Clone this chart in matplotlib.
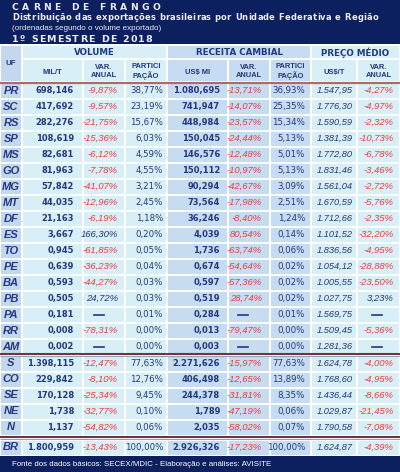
import matplotlib
matplotlib.use("Agg")
import matplotlib.pyplot as plt
from matplotlib.patches import Rectangle

# ---- data -------------------------------------------------------------
ufs = ["PR", "SC", "RS", "SP", "MS", "GO", "MG", "MT", "DF", "ES", "TO",
       "PE", "BA", "PB", "PA", "RR", "AM"]
vol = [698.146, 417.692, 282.276, 108.619, 82.681, 81.963, 57.842, 44.035,
       21.163, 3.667, 0.945, 0.639, 0.593, 0.505, 0.181, 0.008, 0.002]
vol_var = [-9.87, -9.57, -21.75, -15.36, -6.12, -7.78, -41.07, -12.96, -6.19,
           166.30, -61.85, -36.23, -44.27, 24.72, None, -78.31, None]
vol_part = [38.77, 23.19, 15.67, 6.03, 4.59, 4.55, 3.21, 2.45, 1.18, 0.20,
            0.05, 0.04, 0.03, 0.03, 0.01, 0.00, 0.00]
rec = [1080.695, 741.947, 448.984, 150.045, 146.576, 150.112, 90.294, 73.564,
       36.246, 4.039, 1.736, 0.674, 0.597, 0.519, 0.284, 0.013, 0.003]
rec_var = [-13.71, -14.07, -23.57, -24.44, -12.48, -10.97, -42.67, -17.98,
           -8.40, 80.54, -63.74, -54.64, -57.36, 28.74, None, -79.47, None]
rec_part = [36.93, 25.35, 15.34, 5.13, 5.01, 5.13, 3.09, 2.51, 1.24, 0.14,
            0.06, 0.02, 0.02, 0.02, 0.01, 0.00, 0.00]
preco = [1547.95, 1776.30, 1590.59, 1381.39, 1772.80, 1831.46, 1561.04,
         1670.59, 1712.66, 1101.52, 1836.56, 1054.12, 1005.55, 1027.75,
         1569.75, 1509.45, 1281.36]
preco_var = [-4.27, -4.97, -2.32, -10.73, -6.78, -3.46, -2.72, -5.76, -2.35,
             -32.20, -4.95, -28.88, -23.50, 3.23, None, -5.36, None]

regioes = ["S", "CO", "SE", "NE", "N"]
reg_vol = [1398.115, 229.842, 170.128, 1.738, 1.137]
reg_vol_var = [-12.47, -8.10, -25.34, -32.77, -54.82]
reg_vol_part = [77.63, 12.76, 9.45, 0.10, 0.06]
reg_rec = [2271.626, 406.498, 244.378, 1.789, 2.035]
reg_rec_var = [-15.97, -12.65, -31.81, -47.19, -58.02]
reg_rec_part = [77.63, 13.89, 8.35, 0.06, 0.07]
reg_preco = [1624.78, 1768.60, 1436.44, 1029.87, 1790.58]
reg_preco_var = [-4.00, -4.95, -8.66, -21.45, -7.08]

br = ["BR", 1800.959, -13.43, 100.00, 2926.326, -17.23, 100.00, 1624.87, -4.39]

titulo = "CARNE DE FRANGO"
subtitulo = "Distribuição das exportações brasileiras por Unidade Federativa e Região"
nota = "(ordenadas segundo o volume exportado)"
periodo = "1º SEMESTRE DE 2018"
fonte = "Fonte dos dados básicos: SECEX/MDIC - Elaboração e análises: AVISITE"

# ---- style ------------------------------------------------------------
NAVY = "#0c1f5e"
TXT = "#213a7c"
RED = "#f23b3b"
CYAN = "#d8eff7"
BLUE = "#c6dcf2"
UFCOL = "#c3d8ef"

edges = [0, 22, 83, 125, 167, 228, 270, 311, 357, 400]
fills = [UFCOL, CYAN, CYAN, CYAN, BLUE, BLUE, BLUE, CYAN, CYAN]

W, H = 400, 472
fig = plt.figure(figsize=(W / 100, H / 100), dpi=100)
ax = fig.add_axes([0, 0, 1, 1])
ax.set_xlim(0, W)
ax.set_ylim(H, 0)
ax.axis("off")


def br_num(v, d):
    s = f"{v:,.{d}f}"
    return s.replace(",", "#").replace(".", ",").replace("#", ".")


def spaced(x0, y, s, width, **kw):
    # draws text char by char so the line fills the given width
    r = fig.canvas.get_renderer()
    ws = []
    for ch in s:
        t = ax.text(0, 0, ch if ch != " " else "n", **kw)
        ws.append(t.get_window_extent(r).width * (0.6 if ch == " " else 1))
        t.remove()
    gap = (width - sum(ws)) / max(len(s) - 1, 1)
    x = x0
    for ch, w in zip(s, ws):
        ax.text(x, y, ch, ha="left", va="center", **kw)
        x += w + gap


def cell(i, y, h):
    ax.add_patch(Rectangle((edges[i] + 1, y - h / 2), edges[i + 1] - edges[i] - 2, h,
                           fc=fills[i], ec="none"))


def draw_row(y, vals):
    for i in range(9):
        cell(i, y, 14)
    uf, v, vv, vp, r, rv, rp, p, pv = vals
    ax.text(11, y, uf, ha="center", va="center", color=TXT, fontsize=8,
            family="Liberation Sans", weight="bold", style="italic")
    num_kw = dict(va="center", color=TXT, family="DejaVu Sans")
    ax.text(74, y, br_num(v, 3), ha="right", weight="bold", fontsize=6, **num_kw)
    ax.text(220, y, br_num(r, 3), ha="right", weight="bold", fontsize=6, **num_kw)
    ax.text(163, y, br_num(vp, 2) + "%", ha="right", fontsize=6.2, **num_kw)
    ax.text(305, y, br_num(rp, 2) + "%", ha="right", fontsize=6.2, **num_kw)
    ax.text(353, y, br_num(p, 2), ha="right", va="center", color=TXT,
            family="Liberation Sans", style="italic", fontsize=6.7)
    for val, xr, xc, allred in [(vv, 118, 99, False), (rv, 262, 243, True),
                                (pv, 394, 377, False)]:
        if val is None:
            ax.plot([xc - 5, xc + 5], [y, y], color=TXT, lw=1.2)
            continue
        col = RED if (val < 0 or allred) else TXT
        ax.text(xr, y, br_num(val, 2) + "%", ha="right", va="center", color=col,
                family="Liberation Sans", style="italic", fontsize=6.8)


# title band
ax.add_patch(Rectangle((0, 0), W, 44, fc=NAVY, ec="none"))
spaced(12, 7, titulo, 148, color="#ececf4", fontsize=6.6,
       family="DejaVu Sans", weight="bold")
spaced(12, 17.5, subtitulo, 366, color="#ececf4", fontsize=6,
       family="DejaVu Sans", weight="bold")
ax.text(12, 28, nota, ha="left", va="center", color="#ececf4", fontsize=5.8,
        family="Liberation Sans")
spaced(12, 39, periodo, 140, color="#ececf4", fontsize=6.8,
       family="DejaVu Sans", weight="bold")

# header
ax.add_patch(Rectangle((1, 46), 20, 35, fc=UFCOL, ec="none"))
ax.text(11, 63.5, "UF", ha="center", va="center", color=TXT, fontsize=5.8,
        family="Liberation Sans", weight="bold")
groups = [("VOLUME", 1, 4, CYAN), ("RECEITA CAMBIAL", 4, 7, BLUE),
          ("PREÇO MÉDIO", 7, 9, CYAN)]
for name, a, b, fc in groups:
    ax.add_patch(Rectangle((edges[a] + 1, 46), edges[b] - edges[a] - 2, 12,
                           fc=fc, ec="none"))
    ax.text((edges[a] + edges[b]) / 2, 52.5, name, ha="center", va="center",
            color=TXT, fontsize=6.3, family="DejaVu Sans", weight="bold")
subs = ["MIL/T", "VAR.\nANUAL", "PARTICI\nPAÇÃO", "US$ MI", "VAR.\nANUAL",
        "PARTICI\nPAÇÃO", "US$/T", "VAR.\nANUAL"]
for i, s in enumerate(subs, start=1):
    ax.add_patch(Rectangle((edges[i] + 1, 60), edges[i + 1] - edges[i] - 2, 21,
                           fc=fills[i], ec="none"))
    ax.text((edges[i] + edges[i + 1]) / 2, 71.5 if "\n" in s else 72.5, s,
            ha="center", va="center", color=TXT, fontsize=5.4,
            family="Liberation Sans", weight="bold", linespacing=1.05)
ax.plot([0, W], [82.5, 82.5], color="#b06a64", lw=1.6, solid_capstyle="butt")

# states
for k in range(len(ufs)):
    draw_row(90.5 + 16 * k, [ufs[k], vol[k], vol_var[k], vol_part[k], rec[k],
                             rec_var[k], rec_part[k], preco[k], preco_var[k]])

ax.plot([0, W], [353.8, 353.8], color="#6e3444", lw=1.5, solid_capstyle="butt")
ax.plot([0, W], [355.6, 355.6], color="#9aa0b4", lw=0.8, solid_capstyle="butt")

# regions
for k in range(len(regioes)):
    draw_row(363.5 + 16 * k, [regioes[k], reg_vol[k], reg_vol_var[k],
                              reg_vol_part[k], reg_rec[k], reg_rec_var[k],
                              reg_rec_part[k], reg_preco[k], reg_preco_var[k]])

ax.plot([0, W], [436.8, 436.8], color="#6e3444", lw=1.5, solid_capstyle="butt")
ax.plot([0, W], [438.6, 438.6], color="#9aa0b4", lw=0.8, solid_capstyle="butt")

draw_row(447.5, br)

# footer
ax.add_patch(Rectangle((0, 456), W, H - 456, fc=NAVY, ec="none"))
ax.text(12, 464, fonte, ha="left", va="center", color="white", fontsize=5.7,
        family="Liberation Sans")

fig.savefig("out.png", dpi=100)
